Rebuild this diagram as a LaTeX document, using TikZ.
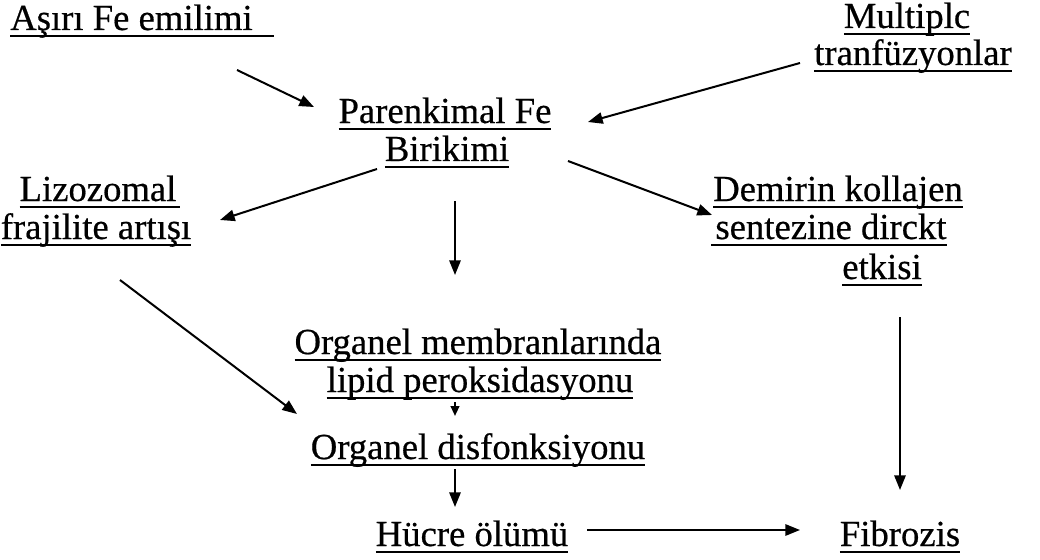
\documentclass[tikz,border=0pt]{standalone}
\usepackage{fontspec}
\setmainfont{Liberation Serif}[FakeBold=0.5]
\usetikzlibrary{arrows.meta,calc}
\newcommand\ulin[1]{\setbox0\hbox{#1}\rlap{\vrule width\wd0 height -3.6pt depth 5.1pt}\box0}
\begin{document}
\begin{tikzpicture}[x=0.75pt,y=-0.75pt,
  lbl/.style={inner sep=0pt, anchor=base, font=\fontsize{27.5pt}{28pt}\selectfont},
  arr/.style={line width=1.5pt, -{Triangle[length=11pt,width=8.5pt]}},
  sarr/.style={line width=1.5pt, -{Triangle[length=7.5pt,width=6.5pt]}}]
\useasboundingbox[fill=white] (0,0) rectangle (1040,560);
% nodes
\node[lbl, anchor=base west] (A) at (10,30) {\ulin{Aşırı Fe emilimi\hspace{16pt}}};
\node[lbl] (M1) at (907,28) {\ulin{Multiplc}};
\node[lbl] (M2) at (913,65) {\ulin{tranfüzyonlar}};
\node[lbl] (P1) at (445,123) {\ulin{Parenkimal Fe}};
\node[lbl] (P2) at (447,161) {\ulin{Birikimi}};
\node[lbl] (L1) at (100,201) {\ulin{Lizozomal\hspace{3pt}}};
\node[lbl] (L2) at (96,239) {\ulin{frajilite artışı}};
\node[lbl] (D1) at (838,201) {\ulin{Demirin kollajen}};
\node[lbl] (D2) at (829,239) {\ulin{\hspace{3pt}sentezine dirckt}};
\node[lbl] (D3) at (882,279) {\ulin{etkisi}};
\node[lbl] (O1) at (478,354) {\ulin{Organel membranlarında}};
\node[lbl] (O2) at (480,392) {\ulin{lipid peroksidasyonu}};
\node[lbl] (OD) at (478,459) {\ulin{Organel disfonksiyonu}};
\node[lbl] (H) at (472,546) {\ulin{Hücre ölümü}};
\node[lbl] (F) at (900,546) {\ulin{Fibrozis}};
% connectors
\draw[arr] ($(A.base west)+(227,40)$) -- ($(P1.base)+(-131,-16)$);
\draw[arr] ($(M2.base)+(-113,-2)$) -- ($(P1.base)+(143,-1)$);
\draw[arr] ($(P2.base)+(-70,8)$) -- ($(L1.base)+(120,19)$);
\draw[arr] ($(P2.base)+(8,40)$) -- ($(O1.base)+(-23,-79)$);
\draw[arr] ($(P2.base)+(121,0)$) -- ($(D1.base)+(-126,14)$);
\draw[arr] ($(L2.base)+(24,41)$) -- ($(OD.base)+(-181,-45)$);
\draw[sarr] ($(O2.base)+(-25,10)$) -- ($(OD.base)+(-23,-43)$);
\draw[arr] ($(OD.base)+(-23,10)$) -- ($(H.base)+(-17,-39)$);
\draw[arr] ($(H.base)+(115,-16)$) -- ($(F.base)+(-100,-16)$);
\draw[arr] ($(D3.base)+(18,38)$) -- ($(F.base)+(0,-56)$);
\end{tikzpicture}
\end{document}
